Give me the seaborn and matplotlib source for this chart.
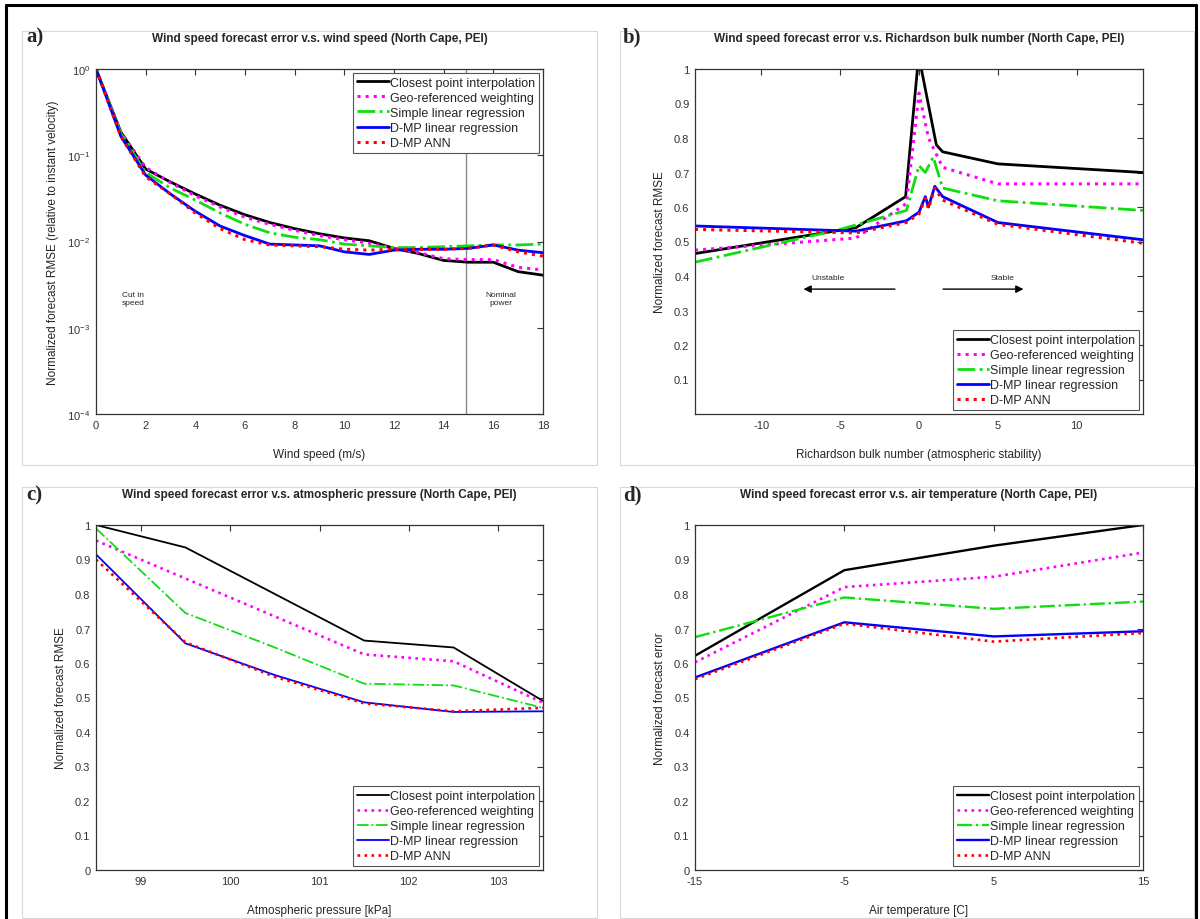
import numpy as np
import pandas as pd
import matplotlib
matplotlib.use("Agg")
import matplotlib.pyplot as plt
from matplotlib.lines import Line2D
from matplotlib.patches import Rectangle
import seaborn as sns

# ---------------- data ----------------
series_names = ["Closest point interpolation", "Geo-referenced weighting",
                "Simple linear regression", "D-MP linear regression", "D-MP ANN"]

# (a) wind speed
wind_speed = list(range(0, 19))
a_closest = [1.0, 0.186, 0.0692, 0.0490, 0.0355, 0.0263, 0.0204, 0.0166, 0.0141, 0.0123,
             0.0110, 0.0102, 0.00832, 0.00724, 0.00603, 0.00575, 0.00575, 0.00447, 0.00407]
a_georef = [1.0, 0.186, 0.0724, 0.0479, 0.0339, 0.0251, 0.0191, 0.0158, 0.0135, 0.0117,
            0.0105, 0.00955, 0.00832, 0.00741, 0.00631, 0.00617, 0.00617, 0.00501, 0.00468]
a_simple = [1.0, 0.178, 0.0631, 0.0417, 0.0302, 0.0214, 0.0158, 0.0126, 0.0112, 0.0105,
            0.00933, 0.00891, 0.00851, 0.00851, 0.00871, 0.00891, 0.00912, 0.00912, 0.00933]
a_dmp_lin = [1.0, 0.166, 0.0589, 0.0355, 0.0224, 0.0151, 0.0117, 0.00933, 0.00912, 0.00891,
             0.00759, 0.00708, 0.00794, 0.00813, 0.00813, 0.00832, 0.00912, 0.00794, 0.00741]
a_dmp_ann = [1.0, 0.166, 0.0562, 0.0355, 0.0214, 0.0141, 0.0105, 0.00912, 0.00891, 0.00871,
             0.00813, 0.00794, 0.00813, 0.00813, 0.00813, 0.00832, 0.00912, 0.00759, 0.00676]

# (b) Richardson bulk number
b_closest_x = [-14.2, -4, -0.85, -0.1, 0.15, 1.1, 1.5, 5, 14.2]
b_closest_y = [0.465, 0.54, 0.63, 1.0, 1.0, 0.78, 0.76, 0.725, 0.70]
b_georef_x = [-14.2, -4, -0.8, 0.0, 0.6, 1.5, 5, 14.2]
b_georef_y = [0.475, 0.51, 0.61, 0.93, 0.80, 0.715, 0.667, 0.667]
b_simple_x = [-14.2, -5, -0.8, 0.0, 0.4, 0.9, 1.5, 5, 14.2]
b_simple_y = [0.44, 0.535, 0.59, 0.72, 0.70, 0.745, 0.655, 0.618, 0.59]
b_dmp_x = [-14.2, -4, -0.8, 0.0, 0.4, 0.6, 1.0, 1.5, 5, 14.2]
b_dmp_lin_y = [0.545, 0.53, 0.56, 0.585, 0.63, 0.60, 0.66, 0.63, 0.555, 0.505]
b_dmp_ann_y = [0.535, 0.525, 0.555, 0.58, 0.625, 0.595, 0.655, 0.62, 0.55, 0.495]

# (c) atmospheric pressure
pressure = [98.5, 99.5, 100.5, 101.5, 102.5, 103.5]
c_closest = [1.0, 0.935, 0.80, 0.665, 0.645, 0.49]
c_georef = [0.955, 0.845, 0.735, 0.625, 0.605, 0.485]
c_simple = [0.99, 0.745, 0.645, 0.54, 0.535, 0.47]
c_dmp_lin = [0.915, 0.657, 0.565, 0.486, 0.458, 0.46]
c_dmp_ann = [0.90, 0.66, 0.56, 0.483, 0.46, 0.47]

# (d) air temperature
temperature = [-15, -5, 5, 15]
d_closest = [0.621, 0.869, 0.94, 1.0]
d_georef = [0.602, 0.82, 0.85, 0.92]
d_simple = [0.675, 0.79, 0.757, 0.778]
d_dmp_lin = [0.558, 0.718, 0.677, 0.692]
d_dmp_ann = [0.553, 0.714, 0.662, 0.687]

colors = ["#000000", "#ff00ff", "#11dd11", "#0000ff", "#ff0000"]
styles = ["-", ":", "-.", "-", ":"]

# ---------------- figure ----------------
sns.set_style("white")
plt.rcParams["font.family"] = ["Liberation Sans", "DejaVu Sans"]
plt.rcParams["axes.unicode_minus"] = False

fig = plt.figure(figsize=(12, 9.2), dpi=100)

W, H = 1200.0, 920.0
def ax_at(l, t, r, b):
    return fig.add_axes([l / W, 1 - b / H, (r - l) / W, (b - t) / H])

ax_a = ax_at(96, 70, 543, 415)
ax_b = ax_at(695, 70, 1143, 415)
ax_c = ax_at(96, 526, 543, 871)
ax_d = ax_at(695, 526, 1143, 871)

def draw(ax, xs, ys_list, lw_main, lw_dot):
    for i, (name, ys) in enumerate(zip(series_names, ys_list)):
        x = xs[i] if isinstance(xs[0], list) else xs
        lw = lw_dot if styles[i] == ":" else lw_main
        sns.lineplot(x=x, y=ys, ax=ax, color=colors[i], linestyle=styles[i],
                     lw=lw, label=name, sort=False, estimator=None)

def style_axes(ax):
    for s in ax.spines.values():
        s.set_visible(True)
        s.set_color("#333333")
        s.set_linewidth(0.9)
    ax.tick_params(direction="in", top=True, right=True, length=4, width=0.8,
                   labelsize=8, colors="#333333", pad=4)
    ax.set_facecolor("white")

def legend(ax, loc):
    leg = ax.legend(loc=loc, fontsize=9, frameon=True, fancybox=False,
                    edgecolor="#555555", framealpha=1, handlelength=2.6,
                    handletextpad=0.1, labelspacing=0.25, borderpad=0.3,
                    borderaxespad=0.3)
    leg.get_frame().set_linewidth(0.8)

title_kw = dict(fontsize=8.5, fontweight="bold", pad=20)
lab_kw = dict(fontsize=8.5)

# (a)
draw(ax_a, wind_speed, [a_closest, a_georef, a_simple, a_dmp_lin, a_dmp_ann], 2.0, 2.2)
ax_a.set_yscale("log")
ax_a.set_xlim(0, 18)
ax_a.set_ylim(1e-4, 1e0)
ax_a.set_xticks(range(0, 19, 2))
ax_a.set_yticks([1e-4, 1e-3, 1e-2, 1e-1, 1e0])
ax_a.minorticks_off()
ax_a.axvline(14.9, color="#888888", lw=1.0, zorder=0)
ax_a.text(1.5, 10 ** -2.66, "Cut in\nspeed", fontsize=6, ha="center", va="center")
ax_a.text(16.3, 10 ** -2.66, "Nominal\npower", fontsize=6, ha="center", va="center")
ax_a.set_title("Wind speed forecast error v.s. wind speed (North Cape, PEI)", **title_kw)
ax_a.set_xlabel("Wind speed (m/s)", labelpad=13, **lab_kw)
ax_a.set_ylabel("Normalized forecast RMSE (relative to instant velocity)", labelpad=6, **lab_kw)
style_axes(ax_a)
legend(ax_a, "upper right")

# (b)
draw(ax_b, [b_closest_x, b_georef_x, b_simple_x, b_dmp_x, b_dmp_x],
     [b_closest_y, b_georef_y, b_simple_y, b_dmp_lin_y, b_dmp_ann_y], 2.0, 2.2)
ax_b.set_xlim(-14.2, 14.2)
ax_b.set_ylim(0, 1)
ax_b.set_xticks([-10, -5, 0, 5, 10])
ax_b.set_yticks([0.1, 0.2, 0.3, 0.4, 0.5, 0.6, 0.7, 0.8, 0.9, 1.0])
ax_b.set_yticklabels(["0.1", "0.2", "0.3", "0.4", "0.5", "0.6", "0.7", "0.8", "0.9", "1"])
ax_b.annotate("", xy=(-7.5, 0.362), xytext=(-1.35, 0.362),
              arrowprops=dict(arrowstyle="-|>", color="black", lw=1.0, mutation_scale=11))
ax_b.annotate("", xy=(6.8, 0.362), xytext=(1.35, 0.362),
              arrowprops=dict(arrowstyle="-|>", color="black", lw=1.0, mutation_scale=11))
ax_b.text(-5.8, 0.395, "Unstable", fontsize=6, ha="center", va="center")
ax_b.text(5.3, 0.395, "Stable", fontsize=6, ha="center", va="center")
ax_b.set_title("Wind speed forecast error v.s. Richardson bulk number (North Cape, PEI)", **title_kw)
ax_b.set_xlabel("Richardson bulk number (atmospheric stability)", labelpad=13, **lab_kw)
ax_b.set_ylabel("Normalized forecast RMSE", labelpad=6, **lab_kw)
style_axes(ax_b)
legend(ax_b, "lower right")

# (c)
draw(ax_c, pressure, [c_closest, c_georef, c_simple, c_dmp_lin, c_dmp_ann], 1.3, 1.9)
ax_c.set_xlim(98.5, 103.5)
ax_c.set_ylim(0, 1)
ax_c.set_xticks([99, 100, 101, 102, 103])
ax_c.set_yticks(np.round(np.arange(0, 1.01, 0.1), 1))
ax_c.set_yticklabels(["0", "0.1", "0.2", "0.3", "0.4", "0.5", "0.6", "0.7", "0.8", "0.9", "1"])
ax_c.set_title("Wind speed forecast error v.s. atmospheric pressure (North Cape, PEI)", **title_kw)
ax_c.set_xlabel("Atmospheric pressure [kPa]", labelpad=13, **lab_kw)
ax_c.set_ylabel("Normalized forecast RMSE", labelpad=6, **lab_kw)
style_axes(ax_c)
legend(ax_c, "lower right")

# (d)
draw(ax_d, temperature, [d_closest, d_georef, d_simple, d_dmp_lin, d_dmp_ann], 1.7, 1.9)
ax_d.set_xlim(-15, 15)
ax_d.set_ylim(0, 1)
ax_d.set_xticks([-15, -5, 5, 15])
ax_d.set_yticks(np.round(np.arange(0, 1.01, 0.1), 1))
ax_d.set_yticklabels(["0", "0.1", "0.2", "0.3", "0.4", "0.5", "0.6", "0.7", "0.8", "0.9", "1"])
ax_d.set_title("Wind speed forecast error v.s. air temperature (North Cape, PEI)", **title_kw)
ax_d.set_xlabel("Air temperature [C]", labelpad=13, **lab_kw)
ax_d.set_ylabel("Normalized forecast error", labelpad=6, **lab_kw)
style_axes(ax_d)
legend(ax_d, "lower right")

# panel boxes (light grey) and outer frame
for (l, t, r, b) in [(22, 32, 597, 466), (620, 32, 1194, 466),
                     (22, 488, 597, 919), (620, 488, 1194, 919)]:
    fig.add_artist(Rectangle((l / W, 1 - b / H), (r - l) / W, (b - t) / H,
                             transform=fig.transFigure, fill=False,
                             edgecolor="#d8d8d8", lw=0.8, zorder=-1))
frame_kw = dict(transform=fig.transFigure, color="black", lw=2.2)
fig.add_artist(Line2D([6 / W, 6 / W], [0, 1 - 6 / H], **frame_kw))
fig.add_artist(Line2D([6 / W, 1196 / W], [1 - 6 / H, 1 - 6 / H], **frame_kw))
fig.add_artist(Line2D([1196 / W, 1196 / W], [0, 1 - 6 / H], **frame_kw))

# panel letters
for lbl, x, y in [("a)", 26, 37), ("b)", 623, 37), ("c)", 26, 495), ("d)", 623, 495)]:
    fig.text(x / W, 1 - y / H, lbl, fontsize=15, fontweight="bold",
             family=["Liberation Serif", "DejaVu Serif"], ha="left", va="center")

fig.savefig("out.png", dpi=100)
